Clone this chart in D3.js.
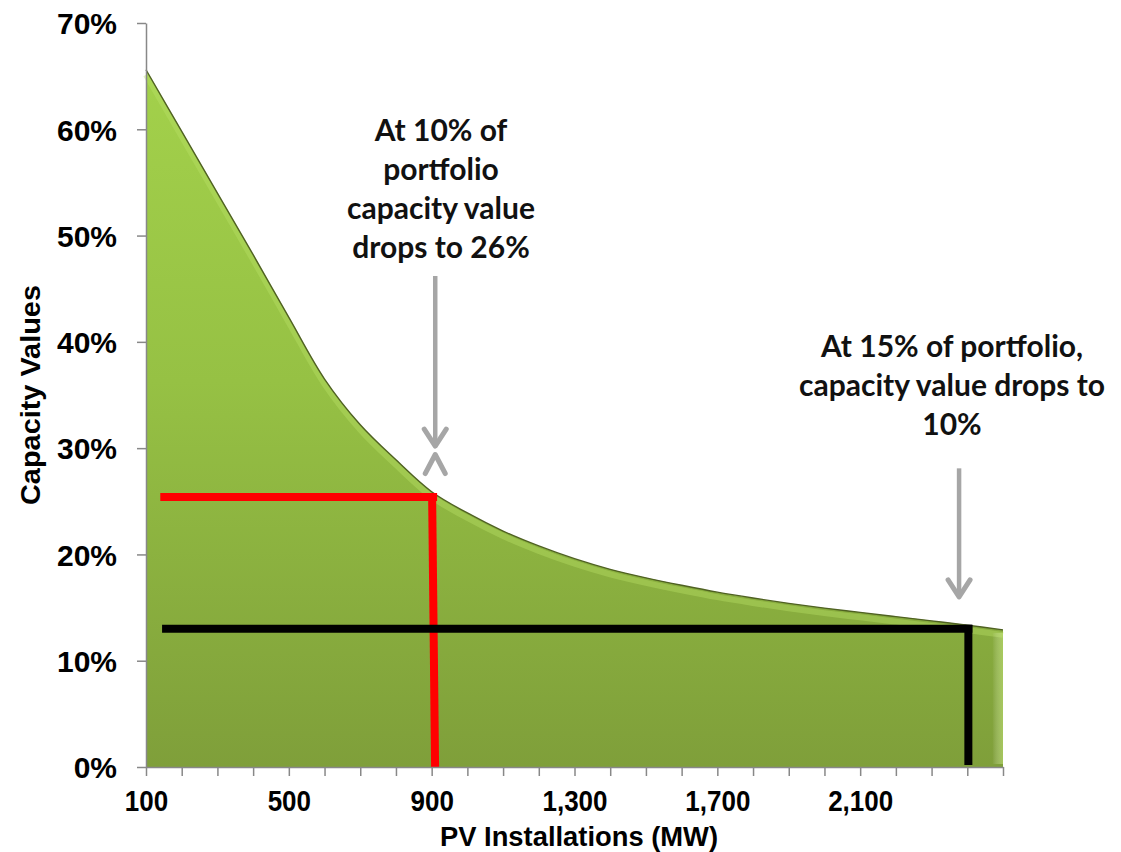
<!DOCTYPE html>
<html>
<head>
<meta charset="utf-8">
<script src="https://cdn.jsdelivr.net/npm/d3@7"></script>
<style>
  html, body { margin: 0; padding: 0; background: #ffffff; }
  svg { display: block; }
</style>
</head>
<body>
<svg id="chart" width="1121" height="852"></svg>
<script>
// ---------- data ----------
const categories = [100, 200, 300, 400, 500, 600, 700, 800, 900, 1000, 1100, 1200, 1300,
                    1400, 1500, 1600, 1700, 1800, 1900, 2000, 2100, 2200, 2300, 2400, 2500];
const capacityValues = [65.6, 59.8, 54.0, 48.2, 42.3, 36.5, 32.2, 28.9, 25.9, 23.9, 22.2, 20.8, 19.6,
                        18.6, 17.8, 17.1, 16.45, 15.9, 15.4, 14.95, 14.55, 14.15, 13.75, 13.35, 12.9];
const xTickLabels = [100, 500, 900, 1300, 1700, 2100];
const yTicks = [0, 10, 20, 30, 40, 50, 60, 70];
const xTitle = "PV Installations (MW)";
const yTitle = "Capacity Values";

// annotation guide lines (MW, %)
const redGuide = { x0: 140, x1: 904, y: 25.4 };
const blackGuide = { x0: 145, x1: 2403, y: 13.0 };
const note1 = ["At 10% of", "portfolio", "capacity value", "drops to 26%"];
const note2 = ["At 15% of portfolio,", "capacity value drops to", "10%"];
const arrow1 = { x: 910, yTop: 46.2, yTip: 30.2, chevron: 29.4 };
const arrow2 = { x: 2377, yTop: 28.1, yTip: 16.0 };

// ---------- scales ----------
const svg = d3.select("#chart");
const x = d3.scaleLinear().domain([100, 2500]).range([146, 1003]);
const y = d3.scaleLinear().domain([0, 70]).range([767, 23]);

const defs = svg.append("defs");
const grad = defs.append("linearGradient").attr("id", "areaGrad")
  .attr("gradientUnits", "userSpaceOnUse")
  .attr("x1", 0).attr("y1", y(66)).attr("x2", 0).attr("y2", y(0));
grad.append("stop").attr("offset", "0%").attr("stop-color", "#a3d14b");
grad.append("stop").attr("offset", "45%").attr("stop-color", "#96c144");
grad.append("stop").attr("offset", "100%").attr("stop-color", "#7f9f3a");

const hgrad = defs.append("linearGradient").attr("id", "edgeGrad")
  .attr("x1", "0%").attr("x2", "100%");
hgrad.append("stop").attr("offset", "0%").attr("stop-color", "#ffffff").attr("stop-opacity", 0);
hgrad.append("stop").attr("offset", "100%").attr("stop-color", "#c9ec7a").attr("stop-opacity", 0.5);

const pts = categories.map((c, i) => [c, capacityValues[i]]);
const curve = d3.curveCatmullRom.alpha(0.5);

// ---------- area ----------
const area = d3.area()
  .x(d => x(d[0])).y0(y(0)).y1(d => y(d[1]))
  .curve(curve);
svg.append("path").datum(pts).attr("d", area).attr("fill", "url(#areaGrad)");

// top highlight band
const line = d3.line().x(d => x(d[0])).y(d => y(d[1])).curve(curve);
svg.append("path").datum(pts).attr("d", line)
  .attr("fill", "none").attr("stroke", "#b9e066").attr("stroke-width", 6)
  .attr("stroke-opacity", 0.4).attr("transform", "translate(0,5)");
// right bevel
svg.append("rect").attr("x", x(2470)).attr("y", y(12.9) + 3)
  .attr("width", x(2500) - x(2470)).attr("height", y(0) - y(12.9) - 6)
  .attr("fill", "url(#edgeGrad)");
// outline
svg.append("path").datum(pts).attr("d", line)
  .attr("fill", "none").attr("stroke", "#4f6122").attr("stroke-width", 1.4);

// ---------- guide lines ----------
svg.append("line")
  .attr("x1", x(redGuide.x0)).attr("x2", x(redGuide.x1) + 4)
  .attr("y1", y(redGuide.y)).attr("y2", y(redGuide.y))
  .attr("stroke", "#ff0000").attr("stroke-width", 8);
svg.append("line")
  .attr("x1", x(redGuide.x1) - 1).attr("x2", x(redGuide.x1) + 2)
  .attr("y1", y(redGuide.y) - 4).attr("y2", y(0))
  .attr("stroke", "#ff0000").attr("stroke-width", 8);

svg.append("line")
  .attr("x1", x(blackGuide.x0)).attr("x2", x(blackGuide.x1) + 4)
  .attr("y1", y(blackGuide.y)).attr("y2", y(blackGuide.y))
  .attr("stroke", "#000000").attr("stroke-width", 8);
svg.append("line")
  .attr("x1", x(blackGuide.x1)).attr("x2", x(blackGuide.x1))
  .attr("y1", y(blackGuide.y) - 4).attr("y2", y(0) - 2)
  .attr("stroke", "#000000").attr("stroke-width", 8);

// ---------- axes ----------
const axisColor = "#888888";
const xAxis = d3.axisBottom(x).tickValues(categories).tickSize(9).tickSizeOuter(0)
  .tickFormat(d => xTickLabels.includes(d) ? d3.format(",")(d) : "");
const gx = svg.append("g").attr("transform", `translate(0,${y(0)})`).call(xAxis);
gx.select(".domain").attr("stroke", axisColor).attr("stroke-width", 1.5);
gx.selectAll(".tick line").attr("stroke", axisColor).attr("stroke-width", 1.5);
gx.selectAll(".tick text")
  .attr("font-family", "'Liberation Sans', Arial, sans-serif")
  .attr("font-weight", "bold").attr("font-size", 26).attr("fill", "#000")
  .attr("y", 0).attr("dy", 0)
  .attr("transform", "translate(0,44) scale(1,1.15)");

const yAxis = d3.axisLeft(y).tickValues(yTicks).tickSize(9).tickSizeOuter(0)
  .tickFormat(d => d + "%");
const gy = svg.append("g").attr("transform", `translate(${x(100)},0)`).call(yAxis);
gy.select(".domain").attr("stroke", axisColor).attr("stroke-width", 1.5);
gy.selectAll(".tick line").attr("stroke", axisColor).attr("stroke-width", 1.5);
gy.selectAll(".tick text")
  .attr("font-family", "'Liberation Sans', Arial, sans-serif")
  .attr("font-weight", "bold").attr("font-size", 30).attr("fill", "#000")
  .attr("x", -29).attr("dy", "0.36em");

// axis titles
svg.append("text")
  .attr("x", 579).attr("y", 846)
  .attr("text-anchor", "middle")
  .attr("font-family", "'Liberation Sans', Arial, sans-serif")
  .attr("font-weight", "bold").attr("font-size", 27)
  .attr("textLength", 278).attr("lengthAdjust", "spacingAndGlyphs")
  .text(xTitle);
svg.append("text")
  .attr("transform", "translate(40,395) rotate(-90)")
  .attr("text-anchor", "middle")
  .attr("font-family", "'Liberation Sans', Arial, sans-serif")
  .attr("font-weight", "bold").attr("font-size", 28)
  .attr("textLength", 220).attr("lengthAdjust", "spacingAndGlyphs")
  .text(yTitle);

// ---------- annotations ----------
const noteFont = "Lato, 'Open Sans', sans-serif";
svg.append("g").selectAll("text").data(note1).join("text")
  .attr("x", 441).attr("y", (d, i) => 141 + i * 39)
  .attr("text-anchor", "middle")
  .attr("font-family", noteFont).attr("font-weight", "bold").attr("font-size", 30)
  .attr("fill", "#111")
  .text(d => d);
svg.append("g").selectAll("text").data(note2).join("text")
  .attr("x", 952).attr("y", (d, i) => 357 + i * 39)
  .attr("text-anchor", "middle")
  .attr("font-family", noteFont).attr("font-weight", "bold").attr("font-size", 30)
  .attr("fill", "#111")
  .text(d => d);

// arrows
const arrowColor = "#a6a6a6";
function drawArrow(a) {
  const ax = x(a.x);
  svg.append("line").attr("x1", ax).attr("x2", ax)
    .attr("y1", y(a.yTop)).attr("y2", y(a.yTip) - 2)
    .attr("stroke", arrowColor).attr("stroke-width", 4.5);
  svg.append("path")
    .attr("d", `M${ax - 11},${y(a.yTip) - 17} L${ax},${y(a.yTip)} L${ax + 11},${y(a.yTip) - 17}`)
    .attr("fill", "none").attr("stroke", arrowColor).attr("stroke-width", 5)
    .attr("stroke-linecap", "round").attr("stroke-linejoin", "round");
}
drawArrow(arrow1);
drawArrow(arrow2);
// the separated up-chevron under arrow 1
{
  const ax = x(arrow1.x);
  const ty = y(arrow1.chevron);
  svg.append("path")
    .attr("d", `M${ax - 10},${ty + 19} L${ax},${ty} L${ax + 10},${ty + 19}`)
    .attr("fill", "none").attr("stroke", arrowColor).attr("stroke-width", 5)
    .attr("stroke-linecap", "round").attr("stroke-linejoin", "round");
}
</script>
</body>
</html>
